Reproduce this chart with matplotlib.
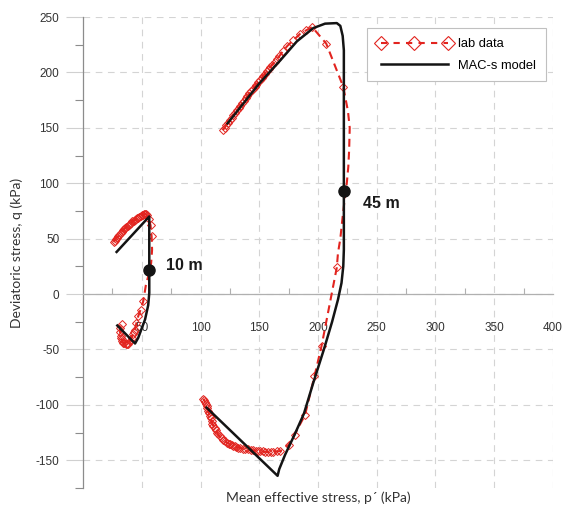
import matplotlib
matplotlib.use('Agg')
import matplotlib.pyplot as plt
from matplotlib.lines import Line2D

plt.rcParams['axes.unicode_minus'] = False

# ---- lab data, 10 m ----
# points with markers
lab10_up_p = [26, 27, 28, 29, 30, 31, 32, 33, 34, 35, 36, 37, 38, 39, 40, 41, 42, 43, 44,
              45, 46, 47, 48, 49, 50, 51, 52, 53, 54, 54.5, 56, 57.5, 58.4]
lab10_up_q = [47, 48.3, 49.7, 51, 52.3, 53.6, 55, 56.3, 57.5, 58.5, 59.5, 60.5, 61.5, 62.5,
              63.5, 64.5, 65.5, 66.3, 67, 67.8, 68.5, 69, 69.8, 70.5, 71, 71.5, 72, 72, 72,
              71, 68, 62, 52]
# dashed stretch without markers
lab10_mid_p = [58.8, 58, 56, 53.5]
lab10_mid_q = [40, 28, 18, 8]
lab10_low_p = [51.3, 49, 47, 45.5, 44.3, 43.3, 42.5, 41.4, 40, 38.6, 37.5, 36.5, 35.3, 34.3,
               33.5, 33, 32.4, 32, 31.5, 31.5, 33]
lab10_low_q = [-6.5, -14, -20, -26, -32, -34.5, -36, -39.5, -42, -45.5, -45.5, -45, -44.5,
               -44, -42.5, -41, -39.5, -38, -34, -30.5, -27]

# ---- lab data, 45 m ----
lab45_up_p = [119, 120.5, 122, 123.5, 125, 126.5, 128, 129.5, 131, 132.5, 134, 135.5, 137,
              138.5, 140, 141.5, 143, 144.5, 146, 147.5, 149, 150.5, 152, 153.5, 155, 156.5,
              158, 159.5, 161, 163, 165, 167, 170, 174, 179, 185, 190, 195, 207, 221.5]
lab45_up_q = [148, 150, 152.5, 154.5, 157, 159, 161.5, 163.5, 166, 168, 170, 172, 174.5,
              176.5, 179, 181, 183, 185, 187, 189, 191, 193, 195, 197, 199, 201, 203, 205,
              207, 209.5, 212, 214.5, 219, 224, 229, 235, 238, 241, 226, 187]
lab45_mid_p = [225.5, 227, 226.5, 225.8, 224.5, 223, 221, 219, 217]
lab45_mid_q = [165, 150, 130, 115, 100, 88, 70, 50, 37]
lab45_low_p = [216, 203, 197, 189, 180, 175, 168, 165, 162, 160, 157.7, 155, 153, 151, 149,
               147, 145, 143, 140.7, 138, 136, 134, 132, 130.5, 129, 127.5, 126.5, 125, 124,
               122.5, 121, 119.5, 118, 116.5, 115, 114, 113, 112, 111, 110, 109.5, 108.7,
               108, 107.2, 106.5, 105.8, 105.2, 104.5, 104, 103.2, 102.4]
lab45_low_q = [24, -47, -74, -109, -127, -136, -141.6, -142, -142.5, -142.5, -142.5, -142.3,
               -142, -141.8, -141.6, -141.3, -141, -140.5, -140, -139.7, -139.5, -139, -138.6,
               -138, -137.5, -137, -136.5, -135.7, -135, -134, -132.6, -131.5, -130, -128.5,
               -126.6, -125, -123, -121, -119, -117, -114.5, -112, -110, -107.5, -105.5,
               -103, -101, -99, -97.5, -96, -94.4]

# ---- MAC-s model ----
mod10_p = [28.6, 56.4, 56.4, 56.4, 55.5, 52.8, 47, 44.3, 29.2]
mod10_q = [38, 70, 22, 1, -10, -23, -39.5, -44.6, -28.4]

mod45_p = [123, 135, 150, 168, 182, 196, 206, 216, 219, 221, 222, 222, 222, 222, 221.5,
           220, 217, 212, 205, 196, 188, 180, 172, 167, 165.6, 105.2]
mod45_q = [154, 170, 190, 211, 228, 240, 244, 244.5, 242, 233, 220, 150, 93, 40, 25,
           10, -5, -25, -50, -80, -108, -127, -145, -158, -164, -102.5]

# sample depths marked on the model curves
dot_p = [56.4, 222]
dot_q = [22, 92.6]
dot_labels = ['10 m', '45 m']
label_p = [70.6, 238]
label_q = [26, 82]

red = '#e2241f'
black = '#141414'
grey = '#8c8c8c'

fig = plt.figure(figsize=(5.67, 5.11), dpi=100)
ax = fig.add_axes([83/567, 1 - 488/511, 470/567, 471/511])

dash = (0, (3.8, 2.4))
lab_sets = [(lab10_up_p, lab10_up_q, lab10_mid_p, lab10_mid_q, lab10_low_p, lab10_low_q),
            (lab45_up_p, lab45_up_q, lab45_mid_p, lab45_mid_q, lab45_low_p, lab45_low_q)]
for up_p, up_q, mid_p, mid_q, low_p, low_q in lab_sets:
    ax.plot(up_p + mid_p + low_p, up_q + mid_q + low_q, color=red, lw=1.5, ls=dash, zorder=3)
    ax.plot(up_p + low_p, up_q + low_q, ls='none', marker='D', ms=4.2, mfc='none',
            mec=red, mew=0.7, zorder=3)
for p, q in [(mod10_p, mod10_q), (mod45_p, mod45_q)]:
    ax.plot(p, q, color=black, lw=1.8, zorder=4, solid_joinstyle='round')
ax.plot(dot_p, dot_q, 'o', color=black, ms=8, zorder=5)
for t, x, y in zip(dot_labels, label_p, label_q):
    ax.text(x, y, t, fontsize=11.5, fontweight='bold', family='Liberation Sans',
            va='center', ha='left', color='#1a1a1a')

ax.set_xlim(0, 400)
ax.set_ylim(-175, 250)
ax.set_xticks(range(50, 401, 50))
ax.set_xticks(range(25, 400, 50), minor=True)
ax.set_yticks(range(-150, 251, 50))
ax.set_yticks(range(-175, 250, 50), minor=True)

ax.grid(True, which='major', ls=(0, (6, 5)), color='#d4d4d4', lw=0.8)
ax.set_axisbelow(True)

for s in ['top', 'right']:
    ax.spines[s].set_visible(False)
ax.spines['bottom'].set_position(('data', 0))
ax.spines['bottom'].set_color('#b0b0b0')
ax.spines['left'].set_color(grey)
ax.spines['bottom'].set_linewidth(0.9)
ax.spines['left'].set_linewidth(0.9)

ax.tick_params(axis='x', which='major', length=0, pad=20, labelsize=8.5, labelcolor='#333333')
ax.tick_params(axis='x', which='minor', direction='in', length=4.5, color='#b0b0b0', width=0.8)
ax.tick_params(axis='y', which='major', direction='out', length=12, color='#d0d0d0',
               width=0.8, pad=5, labelsize=8.5, labelcolor='#333333')
ax.tick_params(axis='y', which='minor', direction='out', length=6, color=grey, width=0.8)
for lab in ax.get_xticklabels() + ax.get_yticklabels():
    lab.set_family('Liberation Sans')

ax.set_xlabel('Mean effective stress, p\u00b4 (kPa)', fontsize=10, family='Lato', color='#333333')
ax.xaxis.set_label_coords(0.5, -0.008)
ax.set_ylabel('Deviatoric stress, q (kPa)', fontsize=10, family='Lato', color='#333333')
ax.yaxis.set_label_coords(-0.128, 0.5)

handles = [Line2D([], [], color=red, lw=1.5, ls=(0, (3, 3)), marker='D', ms=7.5,
                  mfc='none', mec=red, mew=0.8),
           Line2D([], [], color=black, lw=1.8)]
leg = ax.legend(handles, ['lab data', 'MAC-s model'], loc='upper right',
                bbox_to_anchor=(0.9845, 0.976), borderaxespad=0, numpoints=3,
                handlelength=5.8, handletextpad=0.5, borderpad=0.75, labelspacing=0.75,
                fancybox=False, framealpha=1, edgecolor='#c0c0c0',
                prop={'family': 'Liberation Sans', 'size': 9.3})
leg.get_frame().set_linewidth(0.8)

fig.savefig('out.png', dpi=100)
